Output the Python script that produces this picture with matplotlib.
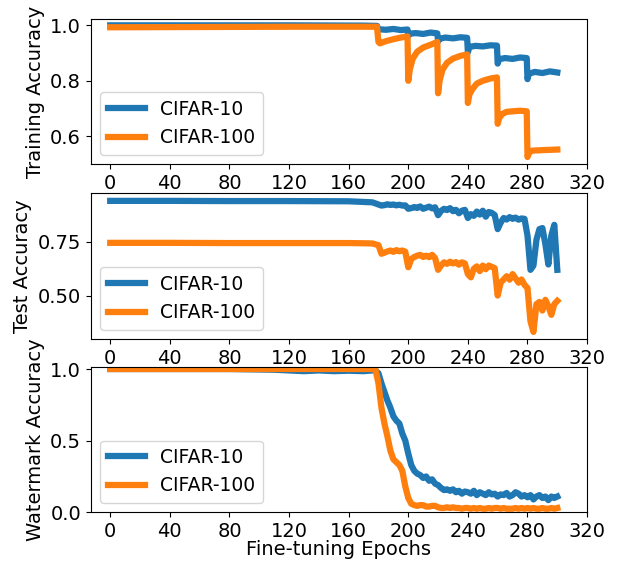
import matplotlib
matplotlib.use("Agg")
import matplotlib.pyplot as plt

# ---------------------------------------------------------
# Training accuracy
# ---------------------------------------------------------
train_ep_c10 = [0, 60, 120, 170, 179, 180, 185, 190, 195, 199.5, 200, 201, 205, 210, 215,
                219.5, 220, 221, 225, 230, 235, 239.5, 240, 241, 245, 250, 255, 259.5,
                260, 261, 265, 270, 275, 279.5, 280, 281, 285, 290, 295, 300]
train_c10 = [1.0, 1.0, 1.0, 0.999, 0.998, 0.986, 0.984, 0.987, 0.983, 0.985, 0.962, 0.97,
             0.972, 0.969, 0.974, 0.971, 0.942, 0.952, 0.956, 0.953, 0.957, 0.955, 0.903,
             0.922, 0.926, 0.924, 0.928, 0.927, 0.862, 0.878, 0.882, 0.879, 0.884, 0.882,
             0.806, 0.826, 0.832, 0.828, 0.834, 0.83]

train_ep_c100 = [0, 60, 120, 179, 180, 181, 185, 190, 195, 199.5, 200, 201, 203, 206, 210,
                 215, 219.5, 220, 221, 223, 226, 230, 235, 239.5, 240, 241, 243, 246, 250,
                 255, 259.5, 260, 261, 263, 266, 270, 275, 279.5, 280, 281, 283, 290, 300]
train_c100 = [0.993, 0.994, 0.995, 0.995, 0.94, 0.935, 0.943, 0.95, 0.956, 0.96, 0.80, 0.84,
              0.88, 0.905, 0.92, 0.93, 0.94, 0.755, 0.80, 0.84, 0.865, 0.88, 0.89, 0.895,
              0.72, 0.75, 0.77, 0.79, 0.80, 0.808, 0.812, 0.645, 0.665, 0.68, 0.688, 0.69,
              0.692, 0.69, 0.525, 0.54, 0.548, 0.55, 0.552]

# ---------------------------------------------------------
# Test accuracy
# ---------------------------------------------------------
test_ep = [0, 40, 80, 120, 160, 170, 176,
           180, 182, 184, 186, 188, 190, 192, 194, 196, 198,
           200, 202, 204, 206, 208, 210, 212, 214, 216, 218,
           220, 222, 224, 226, 228, 230, 232, 234, 236, 238,
           240, 242, 244, 246, 248, 250, 252, 254, 256, 258,
           260, 262, 264, 266, 268, 270, 272, 274, 276, 278,
           280, 282, 284, 286, 288, 290, 292, 294, 296, 298, 300]
test_c10 = [0.942, 0.942, 0.941, 0.941, 0.94, 0.937, 0.935,
            0.925, 0.92, 0.922, 0.926, 0.923, 0.925, 0.921, 0.924, 0.92, 0.921,
            0.905, 0.908, 0.913, 0.909, 0.916, 0.905, 0.91, 0.915, 0.907, 0.912,
            0.875, 0.895, 0.905, 0.899, 0.908, 0.894, 0.9, 0.884, 0.896, 0.9,
            0.862, 0.88, 0.872, 0.892, 0.878, 0.896, 0.868, 0.89, 0.886, 0.876,
            0.81, 0.84, 0.862, 0.855, 0.866, 0.858, 0.864, 0.854, 0.86, 0.858,
            0.78, 0.62, 0.64, 0.76, 0.81, 0.815, 0.74, 0.645, 0.78, 0.83, 0.62]
test_c100 = [0.746, 0.746, 0.745, 0.745, 0.745, 0.744, 0.743,
             0.735, 0.695, 0.70, 0.706, 0.71, 0.704, 0.712, 0.707, 0.71, 0.705,
             0.632, 0.67, 0.68, 0.686, 0.69, 0.68, 0.686, 0.679, 0.69, 0.675,
             0.62, 0.64, 0.655, 0.648, 0.658, 0.65, 0.656, 0.644, 0.655, 0.65,
             0.60, 0.585, 0.625, 0.636, 0.614, 0.64, 0.623, 0.64, 0.634, 0.628,
             0.50, 0.56, 0.575, 0.59, 0.574, 0.60, 0.58, 0.56, 0.575, 0.55,
             0.535, 0.38, 0.33, 0.46, 0.47, 0.43, 0.48, 0.45, 0.41, 0.46, 0.475]

# ---------------------------------------------------------
# Watermark accuracy
# ---------------------------------------------------------
wm_ep = [0, 40, 80, 110, 120, 130, 140, 150, 160, 170, 176, 178,
         180, 182, 184, 186, 188, 190, 192, 194, 196, 198,
         200, 202, 204, 206, 208, 210, 212, 214, 216, 218,
         220, 222, 224, 226, 228, 230, 232, 234, 236, 238,
         240, 242, 244, 246, 248, 250, 252, 254, 256, 258,
         260, 262, 264, 266, 268, 270, 272, 274, 276, 278,
         280, 282, 284, 286, 288, 290, 292, 294, 296, 298, 300]
wm_c10 = [1.0, 1.0, 1.0, 0.995, 0.99, 0.985, 0.99, 0.985, 0.988, 0.985, 0.99, 0.99,
          0.97, 0.90, 0.84, 0.78, 0.73, 0.67, 0.64, 0.62, 0.55, 0.50,
          0.41, 0.33, 0.29, 0.27, 0.26, 0.24, 0.25, 0.22, 0.23, 0.20,
          0.19, 0.17, 0.155, 0.16, 0.15, 0.16, 0.14, 0.15, 0.13, 0.145,
          0.14, 0.13, 0.15, 0.12, 0.14, 0.13, 0.12, 0.14, 0.125, 0.13,
          0.11, 0.125, 0.12, 0.135, 0.11, 0.12, 0.14, 0.13, 0.11, 0.12,
          0.105, 0.12, 0.09, 0.11, 0.12, 0.10, 0.11, 0.085, 0.11, 0.10, 0.11]
wm_c100 = [1.0, 1.0, 1.0, 1.0, 1.0, 1.0, 1.0, 1.0, 1.0, 1.0, 1.0, 0.995,
           0.90, 0.73, 0.62, 0.53, 0.43, 0.37, 0.35, 0.33, 0.29, 0.18,
           0.10, 0.06, 0.05, 0.045, 0.05, 0.05, 0.04, 0.04, 0.045, 0.045,
           0.035, 0.03, 0.03, 0.035, 0.03, 0.035, 0.03, 0.03, 0.025, 0.03,
           0.03, 0.025, 0.03, 0.025, 0.03, 0.025, 0.025, 0.03, 0.025, 0.03,
           0.03, 0.025, 0.03, 0.025, 0.025, 0.025, 0.03, 0.025, 0.03, 0.025,
           0.03, 0.025, 0.03, 0.025, 0.025, 0.03, 0.025, 0.025, 0.03, 0.025, 0.03]

labels = ["CIFAR-10", "CIFAR-100"]
x_ticks = [0, 40, 80, 120, 160, 200, 240, 280, 320]

plt.rcParams['font.size'] = 14

fig = plt.figure(figsize=(6.18, 5.61), dpi=100)

panels = [
    ([0.147, 0.7077, 0.803, 0.258], train_ep_c10, train_c10, train_ep_c100, train_c100,
     "Training Accuracy", (0.50, 1.022), [0.6, 0.8, 1.0]),
    ([0.147, 0.3957, 0.803, 0.260], test_ep, test_c10, test_ep, test_c100,
     "Test Accuracy", (0.297, 0.978), [0.50, 0.75]),
    ([0.147, 0.0868, 0.803, 0.2585], wm_ep, wm_c10, wm_ep, wm_c100,
     "Watermark Accuracy", (0.0, 1.012), [0.0, 0.5, 1.0]),
]

for rect, x1, y1, x2, y2, ylabel, ylim, yticks in panels:
    ax = fig.add_axes(rect)
    ax.plot(x1, y1, color='#1f77b4', linewidth=4.5, label=labels[0])
    ax.plot(x2, y2, color='#ff7f0e', linewidth=4.5, label=labels[1])
    ax.set_xlim(-13, 320)
    ax.set_xticks(x_ticks)
    ax.set_ylim(*ylim)
    ax.set_yticks(yticks)
    ax.set_ylabel(ylabel)
    ax.legend(loc='lower left', fontsize=13.5)

# reference crops this label at the bottom edge; keep it just inside
ax.set_xlabel("Fine-tuning Epochs", labelpad=-1)

fig.savefig("out.png", dpi=100)
